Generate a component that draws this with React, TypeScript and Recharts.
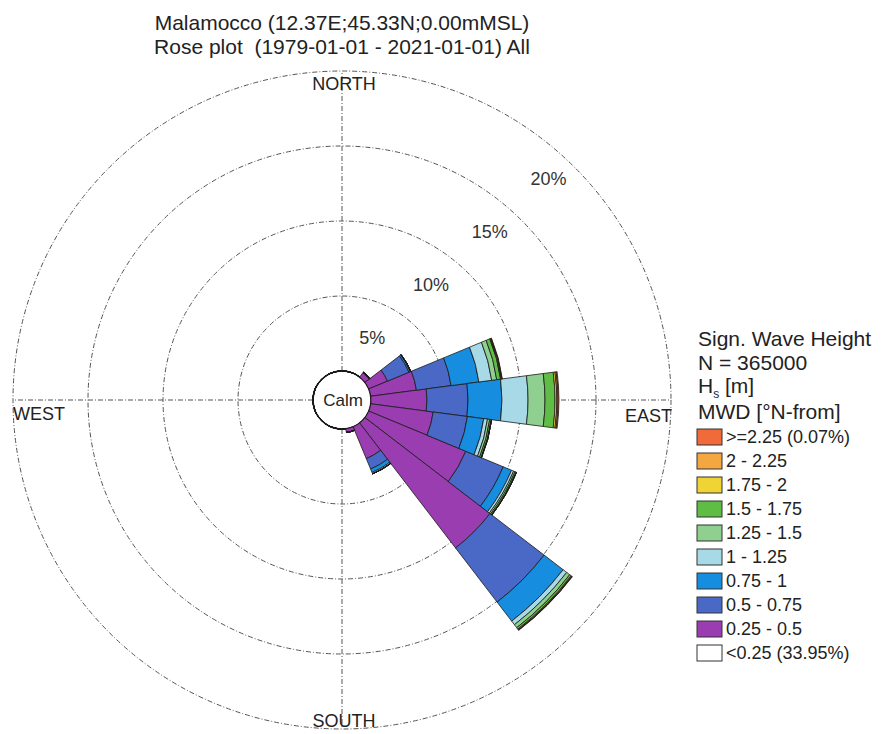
import React from 'react';
import {RadialBarChart, RadialBar, PolarGrid, PolarAngleAxis, PolarRadiusAxis, Customized} from 'recharts';

// directions (deg N-from), 15 deg sectors
const directions = ['0', '15', '30', '45', '60', '75', '90', '105', '120', '135', '150', '165',
    '180', '195', '210', '225', '240', '255', '270', '285', '300', '315', '330', '345'];

// frequency [%] per Hs class and direction
const hs025to05 = [0, 0, 0, 0.35, 1.35, 3.07, 3.73, 4.2, 7.0, 10.5, 2.3, 0.25, 0, 0, 0, 0, 0, 0, 0, 0, 0, 0, 0, 0];
const hs05to075 = [0, 0, 0, 0.05, 1.55, 2.33, 2.74, 2.3, 2.7, 4.55, 0.75, 0, 0, 0, 0, 0, 0, 0, 0, 0, 0, 0, 0, 0];
const hs075to1 = [0, 0, 0, 0, 0.1, 1.87, 2.26, 1.1, 0.6, 1.6, 0.25, 0, 0, 0, 0, 0, 0, 0, 0, 0, 0, 0, 0, 0];
const hs1to125 = [0, 0, 0, 0, 0.03, 0.86, 1.74, 0.25, 0.15, 0.3, 0.08, 0, 0, 0, 0, 0, 0, 0, 0, 0, 0, 0, 0, 0];
const hs125to15 = [0, 0, 0, 0, 0, 0.34, 1.13, 0.15, 0.1, 0.25, 0.02, 0, 0, 0, 0, 0, 0, 0, 0, 0, 0, 0, 0, 0];
const hs15to175 = [0, 0, 0, 0, 0, 0.26, 0.67, 0.1, 0.08, 0.12, 0, 0, 0, 0, 0, 0, 0, 0, 0, 0, 0, 0, 0, 0];
const hs175to2 = [0, 0, 0, 0, 0, 0.05, 0.12, 0.03, 0.03, 0.05, 0, 0, 0, 0, 0, 0, 0, 0, 0, 0, 0, 0, 0, 0];
const hs2to225 = [0, 0, 0, 0, 0, 0.04, 0.08, 0, 0, 0.03, 0, 0, 0, 0, 0, 0, 0, 0, 0, 0, 0, 0, 0, 0];
const hsAbove225 = [0, 0, 0, 0, 0, 0.03, 0.06, 0, 0, 0.02, 0, 0, 0, 0, 0, 0, 0, 0, 0, 0, 0, 0, 0, 0];

const radiusTicks = [5, 10, 15, 20];

// legend, top to bottom
const classLabels = ['>=2.25 (0.07%)', '2 - 2.25', '1.75 - 2', '1.5 - 1.75', '1.25 - 1.5', '1 - 1.25',
    '0.75 - 1', '0.5 - 0.75', '0.25 - 0.5', '<0.25 (33.95%)'];
const classColors = ['#f06a3a', '#f4a640', '#f0d334', '#5fbd45', '#8fcf8f', '#a8d9e7',
    '#168ddf', '#4a68c6', '#9a3db0', '#ffffff'];

// stacking order, inner to outer
const series = [
    {key: 'c025', values: hs025to05, color: classColors[8]},
    {key: 'c05', values: hs05to075, color: classColors[7]},
    {key: 'c075', values: hs075to1, color: classColors[6]},
    {key: 'c1', values: hs1to125, color: classColors[5]},
    {key: 'c125', values: hs125to15, color: classColors[4]},
    {key: 'c15', values: hs15to175, color: classColors[3]},
    {key: 'c175', values: hs175to2, color: classColors[2]},
    {key: 'c2', values: hs2to225, color: classColors[1]},
    {key: 'c225', values: hsAbove225, color: classColors[0]},
];

const chartData = directions.map((dir, i) => {
    const row: Record<string, string | number> = {dir};
    series.forEach(s => {
        row[s.key] = s.values[i];
    });
    return row;
});

const CX = 342;
const CY = 400;
const INNER = 29;
const OUTER = 329;
const FONT = '"Liberation Sans", Arial, sans-serif';

const PercentTick = (props: any) => {
    const {x, y, payload} = props;
    const v = Number(payload.value);
    return (
        <text x={x - 49 + 1.14 * v} y={y + 18} textAnchor="middle" fontSize={18} fill="#333" fontFamily={FONT}>
            {v}%
        </text>
    );
};

// calm circle, compass labels, titles and legend
const Decorations = () => (
    <g fontFamily={FONT} fill="#222">
        <circle cx={CX} cy={CY} r={INNER} fill="#fff" stroke="#111" strokeWidth={1.5}/>
        <text x={CX + 1} y={CY + 6} textAnchor="middle" fontSize={17}>Calm</text>

        <text x={CX + 2} y={CY - 310} textAnchor="middle" fontSize={18}>NORTH</text>
        <text x={CX + 2} y={CY + 327} textAnchor="middle" fontSize={18}>SOUTH</text>
        <text x={13} y={CY + 20} fontSize={18}>WEST</text>
        <text x={672} y={CY + 22} textAnchor="end" fontSize={18}>EAST</text>

        <text x={CX} y={30} textAnchor="middle" fontSize={21}>Malamocco (12.37E;45.33N;0.00mMSL)</text>
        <text x={CX} y={54} textAnchor="middle" fontSize={21} style={{whiteSpace: 'pre'}}>
            Rose plot  (1979-01-01 - 2021-01-01) All
        </text>

        <text x={698} y={346} fontSize={21}>Sign. Wave Height</text>
        <text x={698} y={370} fontSize={21}>N = 365000</text>
        <text x={698} y={393} fontSize={21}>H<tspan fontSize={12} dy={5}>s</tspan><tspan dy={-5}> [m]</tspan></text>
        <text x={698} y={419} fontSize={21}>MWD [°N-from]</text>
        {classLabels.map((label, i) => (
            <g key={label}>
                <rect x={697} y={429 + 24 * i} width={25} height={16} fill={classColors[i]} stroke="#333" strokeWidth={1}/>
                <text x={726} y={443 + 24 * i} fontSize={18}>{label}</text>
            </g>
        ))}
    </g>
);

export default function App() {
    return (
        <div style={{position: 'absolute', left: 0, top: 0, width: 882, height: 734, background: '#fff'}}>
            <RadialBarChart
                width={882}
                height={734}
                data={chartData}
                layout="centric"
                cx={CX}
                cy={CY}
                innerRadius={INNER}
                outerRadius={OUTER}
                startAngle={82.5}
                endAngle={-277.5}
                barCategoryGap={0}
                barGap={0}
                margin={{top: 0, right: 0, bottom: 0, left: 0}}
            >
                <PolarGrid
                    gridType="circle"
                    polarAngles={[90, 0, -90, 180]}
                    stroke="#555"
                    strokeDasharray="5 2 1 2"
                />
                <PolarAngleAxis type="category" dataKey="dir" tick={false} axisLine={false}/>
                <PolarRadiusAxis
                    type="number"
                    domain={[0, 20]}
                    ticks={radiusTicks}
                    angle={45}
                    axisLine={false}
                    tickLine={false}
                    tick={<PercentTick/>}
                />
                {series.map(s => (
                    <RadialBar
                        key={s.key}
                        dataKey={s.key}
                        stackId="hs"
                        fill={s.color}
                        stroke="#1a1a1a"
                        strokeWidth={0.8}
                        isAnimationActive={false}
                    />
                ))}
                <Customized component={<Decorations/>}/>
            </RadialBarChart>
        </div>
    );
}
